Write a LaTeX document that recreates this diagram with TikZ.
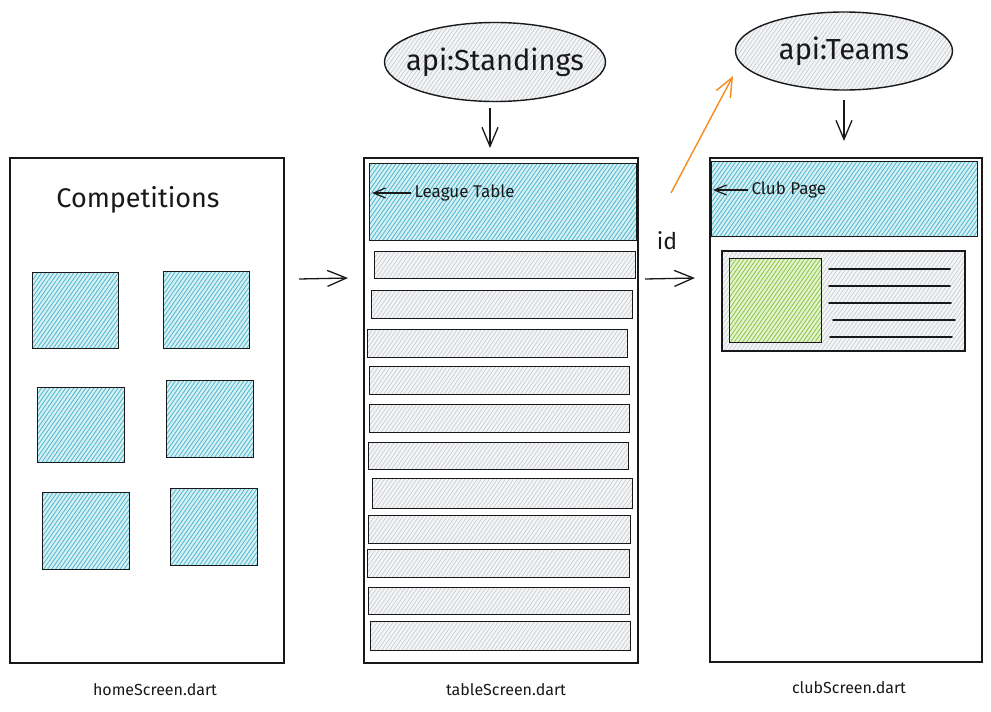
\documentclass[tikz,border=0pt]{standalone}
\usepackage{fontspec}
\setmainfont{Fira Sans}
\usetikzlibrary{shapes.geometric,arrows.meta,patterns.meta}
\definecolor{ink}{RGB}{25,25,25}
\definecolor{hatchblue}{RGB}{80,185,205}
\definecolor{tintblue}{RGB}{215,240,245}
\definecolor{hatchgray}{RGB}{200,205,210}
\definecolor{tintgray}{RGB}{244,245,246}
\definecolor{hatchgreen}{RGB}{140,198,65}
\definecolor{tintgreen}{RGB}{228,243,210}
\definecolor{orangearrow}{RGB}{247,140,30}
\tikzset{
  box/.style={draw=ink, line width=1.4pt, anchor=north west, inner sep=0pt},
  frame/.style={box, line width=1.5pt, fill=white},
  tile/.style={box, preaction={fill=tintblue},
    pattern={Lines[angle=55,distance=3.3pt,line width=0.85pt]}, pattern color=hatchblue},
  rowbox/.style={box, preaction={fill=tintgray},
    pattern={Lines[angle=55,distance=3.3pt,line width=0.7pt]}, pattern color=hatchgray},
  greenbox/.style={box, preaction={fill=tintgreen},
    pattern={Lines[angle=55,distance=3.3pt,line width=0.85pt]}, pattern color=hatchgreen},
  api/.style={ellipse, draw=ink, line width=1.4pt, inner sep=0pt, preaction={fill=tintgray},
    pattern={Lines[angle=55,distance=3.3pt,line width=0.7pt]}, pattern color=hatchgray},
  apitext/.style={font=\fontsize{29}{33}\selectfont, text=ink},
  arr/.style={draw=ink, line width=1.3pt, -{Straight Barb[length=19pt,width=16pt,line width=1.3pt]}},
  smallarr/.style={draw=ink, line width=1.2pt, -{Straight Barb[length=12pt,width=10pt,line width=1.2pt]}},
  caption/.style={font=\fontsize{16}{18}\selectfont, text=ink},
  label/.style={font=\fontsize{17}{20}\selectfont, text=ink, anchor=west},
  bartext/.style={draw=ink, line width=1.6pt, line cap=round},
}
\begin{document}
\begin{tikzpicture}[x=1pt,y=-1pt]
\useasboundingbox[fill=white] (0,0) rectangle (991,712);

% ---------- home screen ----------
\node[frame, minimum width=274pt, minimum height=505pt] (home) at (9,157) {};
\node[font=\fontsize{27}{31}\selectfont, text=ink] (comp) at (138,200) {Competitions};
\node[tile, minimum width=86pt, minimum height=76pt] (t1) at (32,272) {};
\node[tile, minimum width=86pt, minimum height=77pt] (t2) at (163,271) {};
\node[tile, minimum width=87pt, minimum height=75pt] (t3) at (37,387) {};
\node[tile, minimum width=87pt, minimum height=77pt] (t4) at (166,380) {};
\node[tile, minimum width=87pt, minimum height=77pt] (t5) at (42,492) {};
\node[tile, minimum width=87pt, minimum height=77pt] (t6) at (170,488) {};
\node[caption] (homecap) at (155,690) {homeScreen.dart};

% ---------- table screen ----------
\node[frame, minimum width=274pt, minimum height=505pt] (table) at (363,157) {};
\node[tile, minimum width=267pt, minimum height=77pt] (hdr) at (369,163) {};
\node[label] (ltlabel) at (411,193) {League Table};
\draw[smallarr] (ltlabel.west) -- ([xshift=3pt]hdr.west |- ltlabel.west);
\foreach \n/\x/\y/\w/\h in {1/374/251/261/27, 2/371/290/261/28, 3/367/329/260/28,
    4/369/366/260/28, 5/369/404/260/28, 6/368/442/260/27, 7/372/478/260/30,
    8/368/515/262/28, 9/367/549/262/28, 10/368/587/261/27, 11/370/621/260/29}
  \node[rowbox, minimum width=\w pt, minimum height=\h pt] (r\n) at (\x,\y) {};
\node[caption] (tablecap) at (506,690) {tableScreen.dart};

\node[api, minimum width=221pt, minimum height=79pt] (stand) at (495,62) {};
\node[apitext] (standtext) at (stand.center) {api:Standings};
\coordinate (sa) at (490,108);
\coordinate (sb) at (490,148);
\draw[arr] (sa) -- (sb);

% ---------- club screen ----------
\node[frame, minimum width=272pt, minimum height=504pt] (club) at (709,157) {};
\node[tile, minimum width=266pt, minimum height=75pt] (chdr) at (711,161) {};
\node[label] (cplabel) at (748,190) {Club Page};
\draw[smallarr] (cplabel.west) -- ([xshift=2pt]chdr.west |- cplabel.west);
\node[rowbox, line width=1.5pt, minimum width=243pt, minimum height=100pt] (card) at (721,250) {};
\node[greenbox, minimum width=92pt, minimum height=84pt] (photo) at (729,258) {};
\foreach \n/\xa/\xb/\y in {1/829/950/269, 2/829/950/286, 3/829/951/303, 4/833/955/320, 5/830/952/337}
  { \coordinate (la\n) at (\xa,\y); \coordinate (lb\n) at (\xb,\y); \draw[bartext] (la\n) -- (lb\n); }
\node[caption] (clubcap) at (849,688) {clubScreen.dart};

\node[api, minimum width=217pt, minimum height=78pt] (teams) at (844,51) {};
\node[apitext] (teamstext) at (teams.center) {api:Teams};
\coordinate (ta) at (844,100);
\coordinate (tb) at (844,141);
\draw[arr] (ta) -- (tb);

% ---------- flow arrows ----------
\coordinate (ha) at (299,279);
\coordinate (hb) at (348,278);
\draw[arr] (ha) -- (hb);

\coordinate (ca) at (645,279);
\coordinate (cb) at (695,278);
\draw[arr] (ca) -- (cb);
\node[font=\fontsize{23}{26}\selectfont, text=ink] (idl) at (667,241) {id};

\coordinate (oa) at (671,193);
\coordinate (ob) at (733,76);
\draw[line width=1.4pt, draw=orangearrow, -{Straight Barb[length=19pt,width=16pt,line width=1.4pt]}] (oa) -- (ob);
\end{tikzpicture}
\end{document}
